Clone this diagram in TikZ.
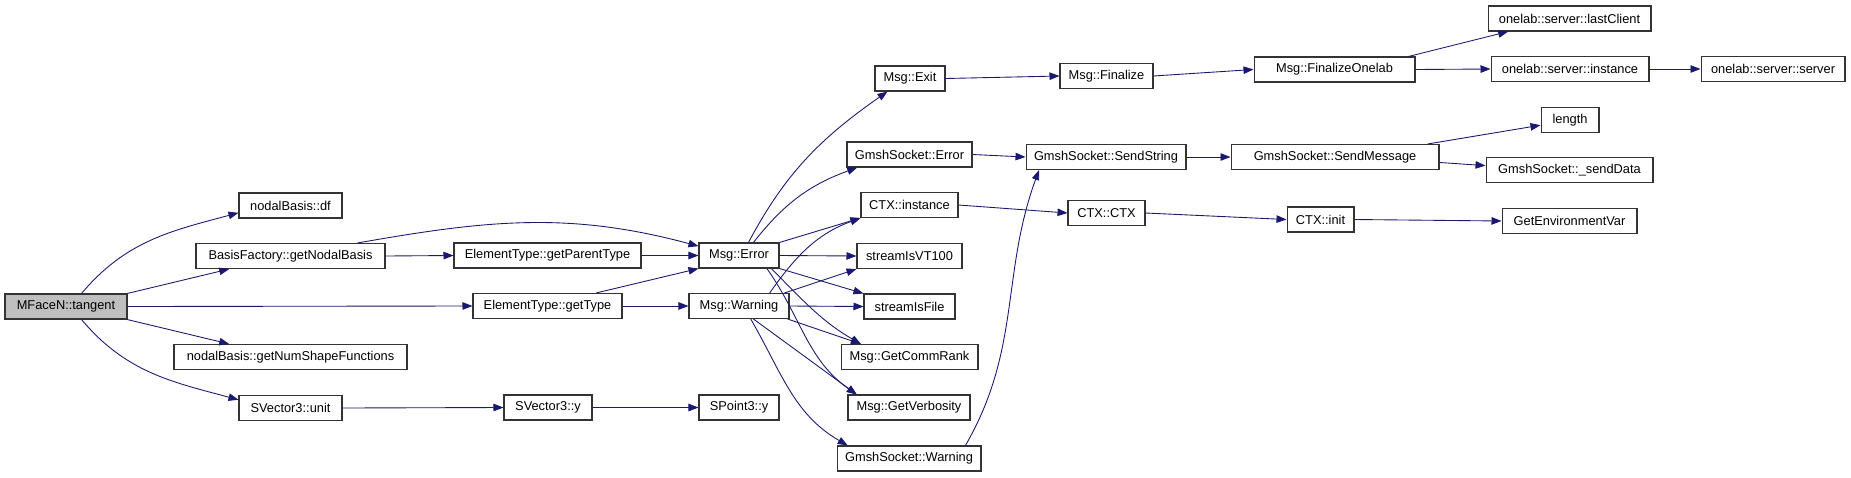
\documentclass[tikz,border=0pt]{standalone}
\usepackage{fontspec}
\setmainfont{Liberation Sans}
\usetikzlibrary{arrows.meta}
\definecolor{edgeblue}{RGB}{25,25,112}
\definecolor{rootgray}{RGB}{191,191,191}
\begin{document}
\begin{tikzpicture}[x=0.02cm, y=0.02cm,
  fn/.style={draw=black!80, fill=white, line width=0.6pt, minimum height=0.5cm,
    inner sep=0pt, font=\fontsize{7.3}{8}\selectfont},
  call/.style={draw=edgeblue, line width=0.5pt, -{Triangle[length=0.2cm,width=0.15cm]}}]
  \useasboundingbox (0,0) rectangle (1851,-477);
  % callers, left to right
  \node[fn, fill=rootgray, minimum width=2.44cm] (tangent) at (66,-306.5) {MFaceN::tangent};
  \node[fn, minimum width=2.06cm] (df)       at (290.5,-205.5) {nodalBasis::df};
  \node[fn, minimum width=3.78cm] (nodal)    at (290.5,-256)   {BasisFactory::getNodalBasis};
  \node[fn, minimum width=4.66cm] (numshape) at (290.5,-357)   {nodalBasis::getNumShapeFunctions};
  \node[fn, minimum width=2.06cm] (unit)     at (290.5,-408)   {SVector3::unit};
  \node[fn, minimum width=3.74cm] (parent)   at (547.5,-255.5) {ElementType::getParentType};
  \node[fn, minimum width=2.98cm] (type)     at (547.5,-306)   {ElementType::getType};
  \node[fn, minimum width=1.76cm] (svy)      at (548,-407.5)   {SVector3::y};
  \node[fn, minimum width=1.6cm]  (err)      at (739,-255.5)   {Msg::Error};
  \node[fn, minimum width=2.0cm]  (warn)     at (739,-306)     {Msg::Warning};
  \node[fn, minimum width=1.6cm]  (spy)      at (739,-407.5)   {SPoint3::y};
  \node[fn, minimum width=1.4cm]  (exit)     at (910,-78.5)    {Msg::Exit};
  \node[fn, minimum width=2.5cm]  (gserr)    at (909.5,-154.5) {GmshSocket::Error};
  \node[fn, minimum width=1.94cm] (ctxinst)  at (909.5,-205)   {CTX::instance};
  \node[fn, minimum width=2.1cm]  (vt)       at (909.5,-256)   {streamIsVT100};
  \node[fn, minimum width=1.82cm] (isfile)   at (909.5,-306.5) {streamIsFile};
  \node[fn, minimum width=2.74cm] (rank)     at (909.5,-357)   {Msg::GetCommRank};
  \node[fn, minimum width=2.44cm] (verb)     at (909,-407.5)   {Msg::GetVerbosity};
  \node[fn, minimum width=2.88cm] (gswarn)   at (909,-458.5)   {GmshSocket::Warning};
  \node[fn, minimum width=1.86cm] (final)    at (1106.5,-76)   {Msg::Finalize};
  \node[fn, minimum width=3.2cm]  (sendstr)  at (1106,-157)    {GmshSocket::SendString};
  \node[fn, minimum width=1.54cm] (ctxctx)   at (1106.5,-213)  {CTX::CTX};
  \node[fn, minimum width=3.22cm] (onelab)   at (1334.5,-69.5) {Msg::FinalizeOnelab};
  \node[fn, minimum width=4.16cm] (sendmsg)  at (1335,-157)    {GmshSocket::SendMessage};
  \node[fn, minimum width=1.34cm] (ctxinit)  at (1320.5,-219.5) {CTX::init};
  \node[fn, minimum width=3.26cm] (last)     at (1569.5,-18.5) {onelab::server::lastClient};
  \node[fn, minimum width=3.16cm] (olinst)   at (1570,-69)     {onelab::server::instance};
  \node[fn, minimum width=1.16cm] (length)   at (1570,-120)    {length};
  \node[fn, minimum width=3.34cm] (senddata) at (1569.5,-170)  {GmshSocket::\_sendData};
  \node[fn, minimum width=2.7cm]  (getenv)   at (1569.5,-221)  {GetEnvironmentVar};
  \node[fn, minimum width=2.88cm] (olserver) at (1773,-69)     {onelab::server::server};
  % calls
  \draw[call] (tangent.40) to[out=50, in=195] (df.188);
  \draw[call] (tangent.12) -- (nodal.192);
  \draw[call] (tangent.east) -- (type.west);
  \draw[call] (tangent.-12) -- (numshape.168);
  \draw[call] (tangent.-40) to[out=-50, in=165] (unit.171);
  \draw[call] (nodal.east) -- (parent.west);
  \draw[call] (nodal.11) to[out=10, in=165] (err.167);
  \draw[call] (parent.east) -- (err.west);
  \draw[call] (type.15) -- (err.south west);
  \draw[call] (type.east) -- (warn.west);
  \draw[call] (unit.east) -- (svy.west);
  \draw[call] (svy.east) -- (spy.west);
  \draw[call] (err.54) to[out=62, in=215] (exit.210);
  \draw[call] (err.42) to[out=52, in=200] (gserr.194);
  \draw[call] (err.north east) -- (ctxinst.south west);
  \draw[call] (err.east) -- (vt.west);
  \draw[call] (err.south east) -- (isfile.north west);
  \draw[call] (err.-22) to[out=-45, in=150] (rank.165);
  \draw[call] (err.-25) to[out=-55, in=145] (verb.166);
  \draw[call] (warn.23) to[out=55, in=200] (ctxinst.south west);
  \draw[call] (warn.16) -- (vt.south west);
  \draw[call] (warn.east) -- (isfile.west);
  \draw[call] (warn.-15) -- (rank.165);
  \draw[call] (warn.-42) -- (verb.166);
  \draw[call] (warn.-48) to[out=-60, in=150] (gswarn.168);
  \draw[call] (gswarn.13) to[out=60, in=250] (sendstr.191);
  \draw[call] (gserr.east) -- (sendstr.west);
  \draw[call] (exit.east) -- (final.west);
  \draw[call] (final.east) -- (onelab.west);
  \draw[call] (onelab.10) -- (last.192);
  \draw[call] (onelab.east) -- (olinst.west);
  \draw[call] (olinst.east) -- (olserver.west);
  \draw[call] (sendstr.east) -- (sendmsg.west);
  \draw[call] (sendmsg.8) -- (length.190);
  \draw[call] (sendmsg.-3) -- (senddata.177);
  \draw[call] (ctxinst.east) -- (ctxctx.west);
  \draw[call] (ctxctx.east) -- (ctxinit.west);
  \draw[call] (ctxinit.east) -- (getenv.west);
\end{tikzpicture}
\end{document}
